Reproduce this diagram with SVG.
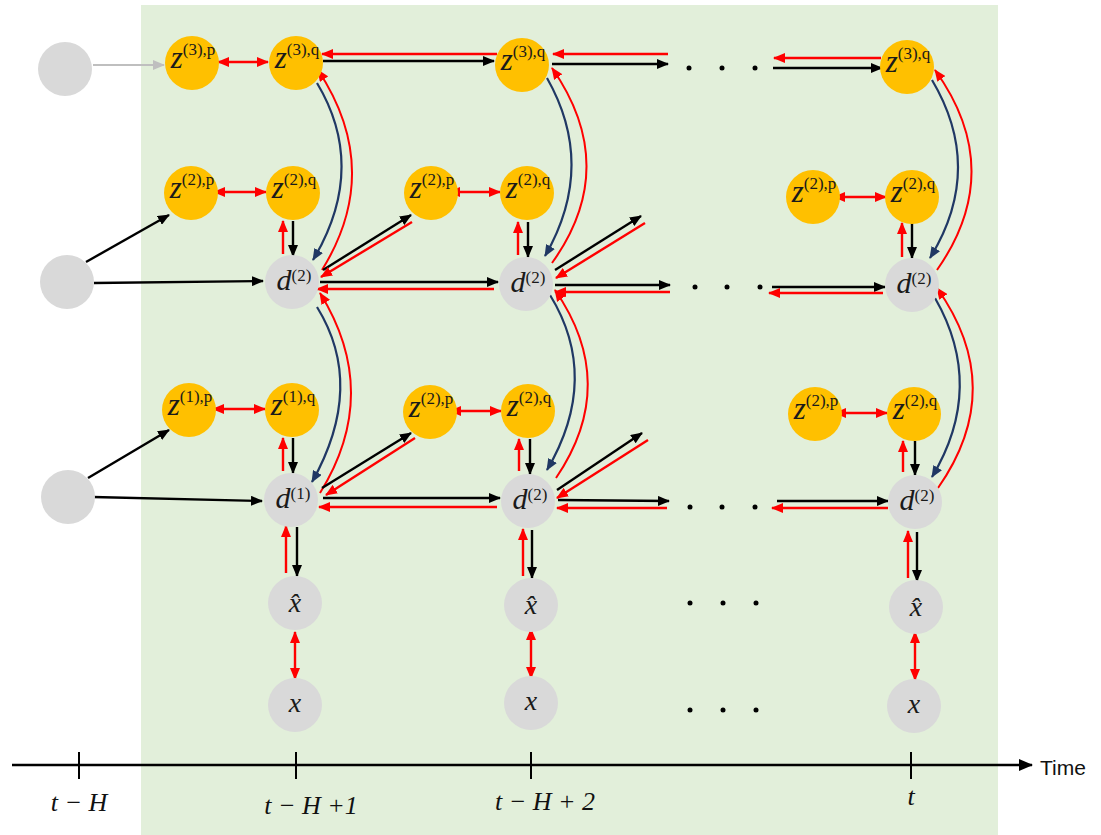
<svg xmlns="http://www.w3.org/2000/svg" width="1101" height="835" viewBox="0 0 1101 835">
<style>
.bg{fill:#E2EFDA}
.y{fill:#FFC000}
.g{fill:#D9D9D9}
.lbl{font-family:"Liberation Serif","DejaVu Serif",serif;fill:#1a1a1a;text-anchor:middle}
.big{font-style:italic;font-size:31px}
.dl{font-style:italic;font-size:30px}
.xl{font-style:italic;font-size:28px}
.sup{font-size:17px;font-style:normal}
.bk{stroke:#000;stroke-width:2.4;fill:none}
.rd{stroke:#FF0000;stroke-width:2.4;fill:none}
.nv{stroke:#203864;stroke-width:2.2;fill:none}
.cr{stroke:#FF0000;stroke-width:2;fill:none}
.gy{stroke:#BFBFBF;stroke-width:2.2;fill:none}
.ax{font-family:"Liberation Serif","DejaVu Serif",serif;font-style:italic;font-size:26px;fill:#111;text-anchor:middle}
.tm{font-family:"Liberation Sans","DejaVu Sans",sans-serif;font-size:21px;fill:#111}
.dot{fill:#000}
</style>
<defs>
<marker id="ab" viewBox="0 0 12 10" refX="11" refY="5" markerWidth="12" markerHeight="10" markerUnits="userSpaceOnUse" orient="auto"><path d="M0,0 L12,5 L0,10 z" fill="#000"/></marker>
<marker id="ar" viewBox="0 0 12 10" refX="11" refY="5" markerWidth="12" markerHeight="10" markerUnits="userSpaceOnUse" orient="auto-start-reverse"><path d="M0,0 L12,5 L0,10 z" fill="#FF0000"/></marker>
<marker id="an" viewBox="0 0 12 10" refX="11" refY="5" markerWidth="12" markerHeight="10" markerUnits="userSpaceOnUse" orient="auto"><path d="M0,0 L12,5 L0,10 z" fill="#203864"/></marker>
<marker id="ag" viewBox="0 0 12 10" refX="11" refY="5" markerWidth="12" markerHeight="10" markerUnits="userSpaceOnUse" orient="auto"><path d="M0,0 L12,5 L0,10 z" fill="#BFBFBF"/></marker>
<marker id="axh" viewBox="0 0 14 12" refX="13" refY="6" markerWidth="14" markerHeight="12" markerUnits="userSpaceOnUse" orient="auto"><path d="M0,0 L14,6 L0,12 z" fill="#000"/></marker>
</defs>

<rect class="bg" x="141" y="5" width="857" height="830"/>

<g id="connectors">
<!-- top row -->
<line class="gy" x1="93" y1="65" x2="164" y2="65" marker-end="url(#ag)"/>
<line class="rd" x1="218" y1="62" x2="268" y2="62" marker-start="url(#ar)" marker-end="url(#ar)"/>
<line class="bk" x1="323" y1="61" x2="494" y2="61" marker-end="url(#ab)"/>
<line class="rd" x1="497" y1="54" x2="322" y2="54" marker-end="url(#ar)"/>
<line class="bk" x1="552" y1="64" x2="668" y2="64" marker-end="url(#ab)"/>
<line class="rd" x1="668" y1="54" x2="553" y2="54" marker-end="url(#ar)"/>
<line class="bk" x1="773" y1="68" x2="882" y2="68" marker-end="url(#ab)"/>
<line class="rd" x1="881" y1="58" x2="774" y2="58" marker-end="url(#ar)"/>
<!-- curves top -->
<path class="nv" d="M317,83 Q368,168 313,260" marker-end="url(#an)"/>
<path class="cr" d="M322,270 Q384,170 318,70" marker-end="url(#ar)"/>
<path class="nv" d="M547,78 Q597,166 545,256" marker-end="url(#an)"/>
<path class="cr" d="M552,263 Q621,167 552,68" marker-end="url(#ar)"/>
<path class="nv" d="M932,80 Q985,169 930,258" marker-end="url(#an)"/>
<path class="cr" d="M937,270 Q1007,170 935,70" marker-end="url(#ar)"/>
<!-- curves lower -->
<path class="nv" d="M317,307 Q366,386 312,482" marker-end="url(#an)"/>
<path class="cr" d="M320,493 Q382,393 320,293" marker-end="url(#ar)"/>
<path class="nv" d="M550,295 Q601,378 547,470" marker-end="url(#an)"/>
<path class="cr" d="M556,478 Q620,384 555,290" marker-end="url(#ar)"/>
<path class="nv" d="M935,298 Q986,387 932,477" marker-end="url(#an)"/>
<path class="cr" d="M938,488 Q1008,388 937,288" marker-end="url(#ar)"/>
<!-- row 2 -->
<line class="bk" x1="86" y1="262" x2="169" y2="215" marker-end="url(#ab)"/>
<line class="bk" x1="94" y1="283" x2="263" y2="281" marker-end="url(#ab)"/>
<line class="rd" x1="214" y1="192" x2="266" y2="192" marker-start="url(#ar)" marker-end="url(#ar)"/>
<line class="rd" x1="283" y1="254" x2="283" y2="221" marker-end="url(#ar)"/>
<line class="bk" x1="293" y1="221" x2="293" y2="256" marker-end="url(#ab)"/>
<line class="bk" x1="323" y1="270" x2="411" y2="215" marker-end="url(#ab)"/>
<line class="rd" x1="412" y1="222" x2="321" y2="277" marker-end="url(#ar)"/>
<line class="bk" x1="320" y1="282" x2="498" y2="282" marker-end="url(#ab)"/>
<line class="rd" x1="494" y1="289" x2="317" y2="289" marker-end="url(#ar)"/>
<line class="rd" x1="449" y1="192" x2="500" y2="192" marker-start="url(#ar)" marker-end="url(#ar)"/>
<line class="rd" x1="518" y1="255" x2="518" y2="222" marker-end="url(#ar)"/>
<line class="bk" x1="528" y1="222" x2="528" y2="257" marker-end="url(#ab)"/>
<line class="bk" x1="555" y1="270" x2="641" y2="216" marker-end="url(#ab)"/>
<line class="rd" x1="645" y1="223" x2="556" y2="278" marker-end="url(#ar)"/>
<line class="bk" x1="555" y1="285" x2="670" y2="285" marker-end="url(#ab)"/>
<line class="rd" x1="670" y1="292" x2="555" y2="292" marker-end="url(#ar)"/>
<line class="bk" x1="772" y1="287" x2="885" y2="287" marker-end="url(#ab)"/>
<line class="rd" x1="883" y1="293" x2="769" y2="293" marker-end="url(#ar)"/>
<line class="rd" x1="834" y1="197" x2="886" y2="197" marker-start="url(#ar)" marker-end="url(#ar)"/>
<line class="rd" x1="902" y1="257" x2="902" y2="223" marker-end="url(#ar)"/>
<line class="bk" x1="912" y1="223" x2="912" y2="258" marker-end="url(#ab)"/>
<!-- row 3 -->
<line class="bk" x1="88" y1="478" x2="169" y2="430" marker-end="url(#ab)"/>
<line class="bk" x1="93" y1="497" x2="262" y2="501" marker-end="url(#ab)"/>
<line class="rd" x1="213" y1="409" x2="265" y2="409" marker-start="url(#ar)" marker-end="url(#ar)"/>
<line class="rd" x1="283" y1="471" x2="283" y2="438" marker-end="url(#ar)"/>
<line class="bk" x1="293" y1="438" x2="293" y2="473" marker-end="url(#ab)"/>
<line class="bk" x1="322" y1="488" x2="411" y2="433" marker-end="url(#ab)"/>
<line class="rd" x1="415" y1="438" x2="326" y2="495" marker-end="url(#ar)"/>
<line class="bk" x1="323" y1="498" x2="500" y2="498" marker-end="url(#ab)"/>
<line class="rd" x1="497" y1="507" x2="319" y2="507" marker-end="url(#ar)"/>
<line class="rd" x1="450" y1="411" x2="501" y2="411" marker-start="url(#ar)" marker-end="url(#ar)"/>
<line class="rd" x1="519" y1="471" x2="519" y2="439" marker-end="url(#ar)"/>
<line class="bk" x1="530" y1="439" x2="530" y2="474" marker-end="url(#ab)"/>
<line class="bk" x1="557" y1="490" x2="642" y2="433" marker-end="url(#ab)"/>
<line class="rd" x1="648" y1="440" x2="557" y2="498" marker-end="url(#ar)"/>
<line class="bk" x1="558" y1="500" x2="669" y2="501" marker-end="url(#ab)"/>
<line class="rd" x1="667" y1="508" x2="557" y2="508" marker-end="url(#ar)"/>
<line class="bk" x1="777" y1="501" x2="888" y2="501" marker-end="url(#ab)"/>
<line class="rd" x1="888" y1="508" x2="772" y2="508" marker-end="url(#ar)"/>
<line class="rd" x1="835" y1="413" x2="887" y2="413" marker-start="url(#ar)" marker-end="url(#ar)"/>
<line class="rd" x1="903" y1="472" x2="903" y2="441" marker-end="url(#ar)"/>
<line class="bk" x1="915" y1="441" x2="915" y2="475" marker-end="url(#ab)"/>
<!-- d to x-hat -->
<line class="rd" x1="286" y1="573" x2="286" y2="526" marker-end="url(#ar)"/>
<line class="bk" x1="297" y1="527" x2="297" y2="576" marker-end="url(#ab)"/>
<line class="rd" x1="523" y1="576" x2="523" y2="529" marker-end="url(#ar)"/>
<line class="bk" x1="532" y1="530" x2="532" y2="578" marker-end="url(#ab)"/>
<line class="rd" x1="908" y1="578" x2="908" y2="531" marker-end="url(#ar)"/>
<line class="bk" x1="917" y1="532" x2="917" y2="581" marker-end="url(#ab)"/>
<!-- x-hat to x -->
<line class="rd" x1="295" y1="632" x2="295" y2="679" marker-start="url(#ar)" marker-end="url(#ar)"/>
<line class="rd" x1="531" y1="629" x2="531" y2="678" marker-start="url(#ar)" marker-end="url(#ar)"/>
<line class="rd" x1="915" y1="632" x2="915" y2="680" marker-start="url(#ar)" marker-end="url(#ar)"/>
</g>

<g id="dots">
<circle class="dot" cx="689" cy="68" r="2.5"/><circle class="dot" cx="722" cy="68" r="2.5"/><circle class="dot" cx="755" cy="68" r="2.5"/>
<circle class="dot" cx="695" cy="287" r="2.5"/><circle class="dot" cx="727" cy="287" r="2.5"/><circle class="dot" cx="760" cy="287" r="2.5"/>
<circle class="dot" cx="690" cy="507" r="2.5"/><circle class="dot" cx="722" cy="507" r="2.5"/><circle class="dot" cx="755" cy="507" r="2.5"/>
<circle class="dot" cx="690" cy="603" r="2.5"/><circle class="dot" cx="723" cy="603" r="2.5"/><circle class="dot" cx="756" cy="603" r="2.5"/>
<circle class="dot" cx="690" cy="710" r="2.5"/><circle class="dot" cx="723" cy="710" r="2.5"/><circle class="dot" cx="756" cy="710" r="2.5"/>
</g>

<!-- left inputs -->
<g id="in3"><circle class="g" cx="65" cy="69" r="27"/></g>
<g id="in2"><circle class="g" cx="67" cy="282" r="27"/></g>
<g id="in1"><circle class="g" cx="68" cy="497" r="27"/></g>

<!-- top row -->
<g id="z3p"><circle class="y" cx="192" cy="63" r="27"/><text class="lbl" x="193" y="68"><tspan class="big">z</tspan><tspan class="sup" dy="-13">(3),p</tspan></text></g>
<g id="z3qA"><circle class="y" cx="296" cy="63" r="27"/><text class="lbl" x="297" y="68"><tspan class="big">z</tspan><tspan class="sup" dy="-13">(3),q</tspan></text></g>
<g id="z3qB"><circle class="y" cx="522" cy="65" r="27"/><text class="lbl" x="523" y="70"><tspan class="big">z</tspan><tspan class="sup" dy="-13">(3),q</tspan></text></g>
<g id="z3qC"><circle class="y" cx="907" cy="67" r="27"/><text class="lbl" x="908" y="72"><tspan class="big">z</tspan><tspan class="sup" dy="-13">(3),q</tspan></text></g>

<!-- row 2 -->
<g id="z2pA"><circle class="y" cx="191" cy="193" r="27"/><text class="lbl" x="192" y="198"><tspan class="big">z</tspan><tspan class="sup" dy="-13">(2),p</tspan></text></g>
<g id="z2qA"><circle class="y" cx="293" cy="193" r="27"/><text class="lbl" x="294" y="198"><tspan class="big">z</tspan><tspan class="sup" dy="-13">(2),q</tspan></text></g>
<g id="d2A"><circle class="g" cx="292" cy="282" r="27"/><text class="lbl" x="294" y="290"><tspan class="dl">d</tspan><tspan class="sup" dy="-9">(2)</tspan></text></g>
<g id="z2pB"><circle class="y" cx="431" cy="193" r="27"/><text class="lbl" x="432" y="198"><tspan class="big">z</tspan><tspan class="sup" dy="-13">(2),p</tspan></text></g>
<g id="z2qB"><circle class="y" cx="527" cy="193" r="27"/><text class="lbl" x="528" y="198"><tspan class="big">z</tspan><tspan class="sup" dy="-13">(2),q</tspan></text></g>
<g id="d2B"><circle class="g" cx="526" cy="284" r="27"/><text class="lbl" x="528" y="292"><tspan class="dl">d</tspan><tspan class="sup" dy="-9">(2)</tspan></text></g>
<g id="z2pC"><circle class="y" cx="813" cy="197" r="27"/><text class="lbl" x="814" y="202"><tspan class="big">z</tspan><tspan class="sup" dy="-13">(2),p</tspan></text></g>
<g id="z2qC"><circle class="y" cx="912" cy="197" r="27"/><text class="lbl" x="913" y="202"><tspan class="big">z</tspan><tspan class="sup" dy="-13">(2),q</tspan></text></g>
<g id="d2C"><circle class="g" cx="912" cy="285" r="27"/><text class="lbl" x="914" y="293"><tspan class="dl">d</tspan><tspan class="sup" dy="-9">(2)</tspan></text></g>

<!-- row 3 -->
<g id="z1pA"><circle class="y" cx="189" cy="410" r="27"/><text class="lbl" x="190" y="415"><tspan class="big">z</tspan><tspan class="sup" dy="-13">(1),p</tspan></text></g>
<g id="z1qA"><circle class="y" cx="292" cy="410" r="27"/><text class="lbl" x="293" y="415"><tspan class="big">z</tspan><tspan class="sup" dy="-13">(1),q</tspan></text></g>
<g id="d1A"><circle class="g" cx="291" cy="500" r="27"/><text class="lbl" x="293" y="508"><tspan class="dl">d</tspan><tspan class="sup" dy="-9">(1)</tspan></text></g>
<g id="z2pB2"><circle class="y" cx="430" cy="412" r="27"/><text class="lbl" x="431" y="417"><tspan class="big">z</tspan><tspan class="sup" dy="-13">(2),p</tspan></text></g>
<g id="z2qB2"><circle class="y" cx="528" cy="411" r="27"/><text class="lbl" x="529" y="416"><tspan class="big">z</tspan><tspan class="sup" dy="-13">(2),q</tspan></text></g>
<g id="d2B2"><circle class="g" cx="528" cy="501" r="27"/><text class="lbl" x="530" y="509"><tspan class="dl">d</tspan><tspan class="sup" dy="-9">(2)</tspan></text></g>
<g id="z2pC2"><circle class="y" cx="815" cy="414" r="27"/><text class="lbl" x="816" y="419"><tspan class="big">z</tspan><tspan class="sup" dy="-13">(2),p</tspan></text></g>
<g id="z2qC2"><circle class="y" cx="914" cy="414" r="27"/><text class="lbl" x="915" y="419"><tspan class="big">z</tspan><tspan class="sup" dy="-13">(2),q</tspan></text></g>
<g id="d2C2"><circle class="g" cx="915" cy="502" r="27"/><text class="lbl" x="917" y="510"><tspan class="dl">d</tspan><tspan class="sup" dy="-9">(2)</tspan></text></g>

<!-- outputs -->
<g id="xhA"><circle class="g" cx="295" cy="603" r="27"/><text class="lbl xl" x="295" y="612">x̂</text></g>
<g id="xA"><circle class="g" cx="295" cy="705" r="27"/><text class="lbl xl" x="295" y="712">x</text></g>
<g id="xhB"><circle class="g" cx="531" cy="605" r="27"/><text class="lbl xl" x="531" y="614">x̂</text></g>
<g id="xB"><circle class="g" cx="531" cy="703" r="27"/><text class="lbl xl" x="531" y="710">x</text></g>
<g id="xhC"><circle class="g" cx="916" cy="607" r="27"/><text class="lbl xl" x="916" y="616">x̂</text></g>
<g id="xC"><circle class="g" cx="914" cy="706" r="27"/><text class="lbl xl" x="914" y="713">x</text></g>

<!-- time axis -->
<g id="axis">
<line x1="12" y1="765" x2="1032" y2="765" stroke="#000" stroke-width="2.4" marker-end="url(#axh)"/>
<line x1="79" y1="752" x2="79" y2="779" stroke="#000" stroke-width="2"/>
<line x1="296" y1="752" x2="296" y2="779" stroke="#000" stroke-width="2"/>
<line x1="531" y1="752" x2="531" y2="779" stroke="#000" stroke-width="2"/>
<line x1="911" y1="752" x2="911" y2="779" stroke="#000" stroke-width="2"/>
<text class="ax" x="79" y="811">t − H</text>
<text class="ax" x="311" y="814">t − H +1</text>
<text class="ax" x="545" y="810">t − H + 2</text>
<text class="ax" x="911" y="805">t</text>
<text class="tm" x="1040" y="775">Time</text>
</g>
</svg>
